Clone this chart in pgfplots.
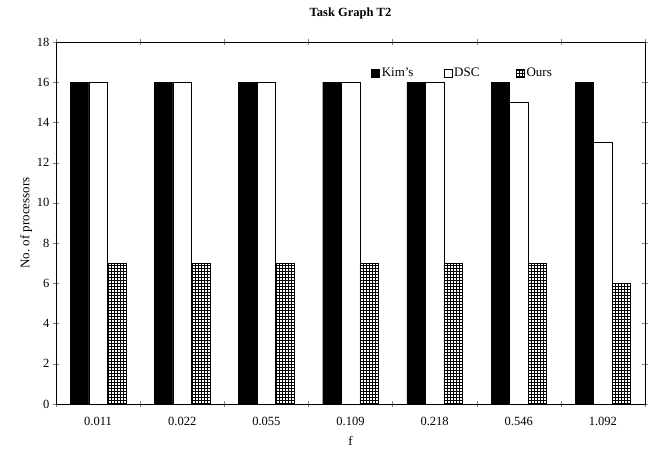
\documentclass[border=0pt]{standalone}
\usepackage{pgfplots}
\pgfplotsset{compat=1.18}
\usepackage{fontspec}
\setmainfont{Liberation Serif}
\usetikzlibrary{patterns}
\begin{document}
\begin{tikzpicture}
\path[use as bounding box] (-56pt,-50pt) rectangle (599pt,404pt);
\begin{axis}[
  scale only axis,
  width=589pt, height=362pt,
  xmin=-0.5, xmax=6.5, ymin=0, ymax=18,
  ybar=0pt, bar width=0.22,
  xtick={0,...,6},
  xticklabels={0.011,0.022,0.055,0.109,0.218,0.546,1.092},
  minor xtick={-0.5,0.5,...,6.5},
  ytick={0,2,...,18},
  tick align=center,
  major x tick style={draw=none},
  minor tick length=6pt,
  major tick length=6pt,
  /pgf/number format/assume math mode=true,
  tick label style={font=\fontsize{12.5}{14}\selectfont},
  xticklabel style={yshift=-7pt},
  xlabel={f}, ylabel={No.\ of processors},
  label style={font=\fontsize{13}{15}\selectfont},
  xlabel style={yshift=-3pt},
  ylabel style={yshift=-2pt},
  title={\textbf{Task Graph T2}},
  title style={font=\fontsize{12.5}{14}\selectfont, yshift=13pt},
  legend style={draw=none, fill=none, at={(0.53,0.914)}, anchor=west,
    font=\fontsize{13}{15}\selectfont},
  legend columns=3,
  legend image code/.code={\draw[#1] (0pt,-4pt) rectangle (8pt,4pt);},
]
\addplot[draw=black, fill=black] coordinates {(0,16) (1,16) (2,16) (3,16) (4,16) (5,16) (6,16)};
\addplot[draw=black, fill=white] coordinates {(0,16) (1,16) (2,16) (3,16) (4,16) (5,15) (6,13)};
\addplot[draw=black, pattern=grid, pattern color=black] coordinates {(0,7) (1,7) (2,7) (3,7) (4,7) (5,7) (6,6)};
\legend{\makebox[60pt][l]{Kim's}, \makebox[60pt][l]{DSC}, Ours}
\end{axis}
\end{tikzpicture}
\end{document}
